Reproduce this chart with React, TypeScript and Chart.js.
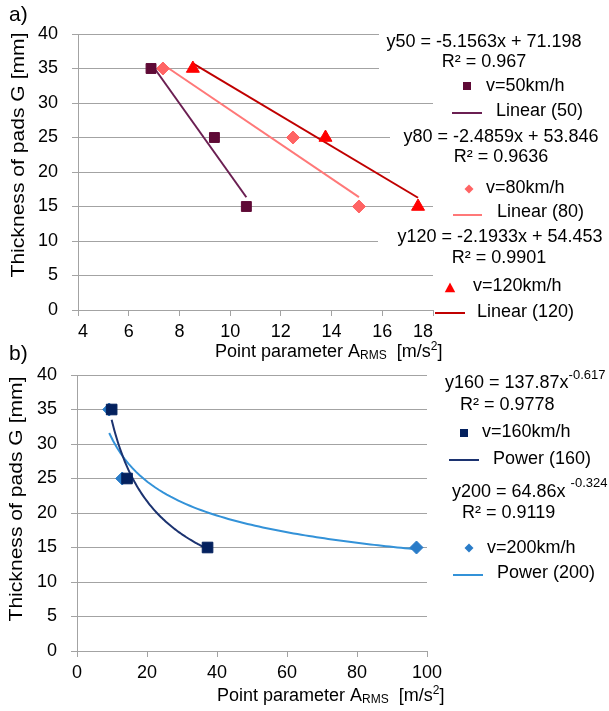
import React, { useEffect, useRef } from 'react';
import { Chart, registerables } from 'chart.js';
Chart.register(...registerables);

const FONT = '"Liberation Sans", Arial, Helvetica, sans-serif';

// ---------- Panel a) data ----------
const thicknessA = [35, 25, 15];
const arms50 = [6.88, 9.38, 10.64];
const arms80 = [7.35, 12.48, 15.08];
const arms120 = [8.53, 13.76, 17.41];
const linear50 = [-5.1563, 71.198];
const linear80 = [-2.4859, 53.846];
const linear120 = [-2.1933, 54.453];
const r2A = ['0.967', '0.9636', '0.9901'];
const xTicksA = [4, 6, 8, 10, 12, 14, 16, 18];

// ---------- Panel b) data ----------
const thicknessB = [35, 25, 15];
const arms160 = [9.9, 14.3, 37.3];
const arms200 = [9.2, 12.9, 97.0];
const power160 = [137.87, -0.617];
const power200 = [64.86, -0.324];
const r2B = ['0.9778', '0.9119'];
const xTicksB = [0, 20, 40, 60, 80, 100];

const yTicks = [0, 5, 10, 15, 20, 25, 30, 35, 40];

// ---------- colours ----------
const C50 = '#5f0a36';
const L50 = '#6b1f52';
const C80 = '#ff6464';
const L80 = '#ff7878';
const C120 = '#ff0000';
const L120 = '#c00000';
const C160 = '#04215e';
const L160 = '#1c3370';
const C200 = '#2a7cc8';
const L200 = '#3392d8';
const GRID = '#a3a3a3';

type Run = [string, number, number];

function drawRuns(ctx: CanvasRenderingContext2D, x: number, y: number, runs: Run[], align: 'left' | 'center' = 'left') {
  const widths = runs.map(([t, s]) => {
    ctx.font = `${s}px ${FONT}`;
    return ctx.measureText(t).width;
  });
  const total = widths.reduce((p, c) => p + c, 0);
  let cx = align === 'center' ? x - total / 2 : x;
  ctx.textAlign = 'left';
  ctx.textBaseline = 'middle';
  runs.forEach(([t, s, dy], i) => {
    ctx.font = `${s}px ${FONT}`;
    ctx.fillText(t, cx, y + dy);
    cx += widths[i];
  });
}

function drawYTitle(ctx: CanvasRenderingContext2D, cx: number, cy: number, len: number) {
  const t = 'Thickness of pads G [mm]';
  ctx.save();
  ctx.translate(cx, cy);
  ctx.rotate(-Math.PI / 2);
  ctx.font = `18px ${FONT}`;
  const w = ctx.measureText(t).width;
  ctx.scale(len / w, 1);
  ctx.textAlign = 'center';
  ctx.textBaseline = 'middle';
  ctx.fillStyle = '#000';
  ctx.fillText(t, 0, 0);
  ctx.restore();
}

function drawXTitle(ctx: CanvasRenderingContext2D, x: number, y: number) {
  ctx.fillStyle = '#000';
  drawRuns(ctx, x, y, [
    ['Point parameter A', 18, 0],
    ['RMS', 12, 4],
    ['  [m/s', 18, 0],
    ['2', 12, -5],
    [']', 18, 0],
  ]);
}

function marker(ctx: CanvasRenderingContext2D, style: string, x: number, y: number, r: number, color: string) {
  ctx.fillStyle = color;
  ctx.beginPath();
  if (style === 'rect') {
    ctx.rect(x - r, y - r, 2 * r, 2 * r);
  } else if (style === 'rectRot') {
    ctx.moveTo(x, y - r);
    ctx.lineTo(x + r, y);
    ctx.lineTo(x, y + r);
    ctx.lineTo(x - r, y);
    ctx.closePath();
  } else {
    ctx.moveTo(x, y - r);
    ctx.lineTo(x + r * 0.95, y + r * 0.75);
    ctx.lineTo(x - r * 0.95, y + r * 0.75);
    ctx.closePath();
  }
  ctx.fill();
}

function seg(ctx: CanvasRenderingContext2D, x1: number, x2: number, y: number, color: string) {
  ctx.strokeStyle = color;
  ctx.lineWidth = 2;
  ctx.beginPath();
  ctx.moveTo(x1, y);
  ctx.lineTo(x2, y);
  ctx.stroke();
}

function fmtLin(name: string, c: number[]) {
  return `${name} = ${c[0]}x + ${c[1]}`;
}

function linearTrend(xs: number[], c: number[]) {
  const lo = Math.min(...xs);
  const hi = Math.max(...xs);
  return [lo, hi].map((x) => ({ x, y: c[0] * x + c[1] }));
}

function powerTrend(xs: number[], c: number[]) {
  const lo = Math.min(...xs);
  const hi = Math.max(...xs);
  const n = 80;
  const pts: { x: number; y: number }[] = [];
  for (let i = 0; i <= n; i++) {
    const x = lo + ((hi - lo) * i) / n;
    pts.push({ x, y: c[0] * Math.pow(x, c[1]) });
  }
  return pts;
}

function pts(xs: number[], ys: number[]) {
  return xs.map((x, i) => ({ x, y: ys[i] }));
}

function axes(xTicks: number[], yW: number, xH: number, inner: boolean) {
  return {
    x: {
      type: 'linear' as const,
      position: 'bottom' as const,
      min: xTicks[0],
      max: xTicks[xTicks.length - 1],
      afterBuildTicks: (s: any) => {
        s.ticks = xTicks.map((v) => ({ value: v }));
      },
      afterFit: (s: any) => {
        s.height = xH;
      },
      grid: { drawOnChartArea: false, drawTicks: true, tickLength: 6, color: GRID, lineWidth: 1 },
      border: { display: true, color: GRID, width: 1 },
      ticks: {
        font: { family: FONT, size: 18 },
        color: '#000',
        padding: 5,
        maxRotation: 0,
        autoSkip: false,
        align: inner ? ('inner' as const) : ('center' as const),
      },
    },
    y: {
      type: 'linear' as const,
      min: yTicks[0],
      max: yTicks[yTicks.length - 1],
      afterBuildTicks: (s: any) => {
        s.ticks = yTicks.map((v) => ({ value: v }));
      },
      afterFit: (s: any) => {
        s.width = yW;
      },
      grid: { drawOnChartArea: true, drawTicks: true, tickLength: 6, color: GRID, lineWidth: 1 },
      border: { display: true, color: GRID, width: 1 },
      ticks: {
        font: { family: FONT, size: 18 },
        color: '#000',
        padding: 14,
        autoSkip: false,
      },
    },
  };
}

export default function App() {
  const refA = useRef<HTMLCanvasElement>(null);
  const refB = useRef<HTMLCanvasElement>(null);

  useEffect(() => {
    const decoA = {
      id: 'decoA',
      afterDraw(chart: any) {
        const ctx: CanvasRenderingContext2D = chart.ctx;
        ctx.save();
        // white label boxes behind equations
        ctx.fillStyle = '#fff';
        ctx.fillRect(379, 27, 230, 45);
        ctx.fillRect(390, 128, 219, 47);
        ctx.fillRect(378, 229, 231, 37);
        ctx.fillStyle = '#000';
        drawRuns(ctx, 9, 15, [['a)', 21, 0]]);
        drawYTitle(ctx, 19, 155, 245);
        drawXTitle(ctx, 215, 352);
        ctx.fillStyle = '#000';
        drawRuns(ctx, 484, 42, [[fmtLin('y50', linear50), 18, 0]], 'center');
        drawRuns(ctx, 484, 62, [[`R² = ${r2A[0]}`, 18, 0]], 'center');
        marker(ctx, 'rect', 467, 86, 4, C50);
        ctx.fillStyle = '#000';
        drawRuns(ctx, 486, 86, [['v=50km/h', 18, 0]]);
        seg(ctx, 452, 482, 113, L50);
        ctx.fillStyle = '#000';
        drawRuns(ctx, 496, 111, [['Linear (50)', 18, 0]]);

        drawRuns(ctx, 501, 137, [[fmtLin('y80', linear80), 18, 0]], 'center');
        drawRuns(ctx, 501, 157, [[`R² = ${r2A[1]}`, 18, 0]], 'center');
        marker(ctx, 'rectRot', 469, 189, 4.5, C80);
        ctx.fillStyle = '#000';
        drawRuns(ctx, 486, 188, [['v=80km/h', 18, 0]]);
        seg(ctx, 453, 482, 215, L80);
        ctx.fillStyle = '#000';
        drawRuns(ctx, 497, 212, [['Linear (80)', 18, 0]]);

        drawRuns(ctx, 500, 237, [[fmtLin('y120', linear120), 18, 0]], 'center');
        drawRuns(ctx, 499, 258, [[`R² = ${r2A[2]}`, 18, 0]], 'center');
        marker(ctx, 'triangle', 450, 288, 5.5, C120);
        ctx.fillStyle = '#000';
        drawRuns(ctx, 473, 286, [['v=120km/h', 18, 0]]);
        seg(ctx, 435, 465, 313, L120);
        ctx.fillStyle = '#000';
        drawRuns(ctx, 477, 312, [['Linear (120)', 18, 0]]);
        ctx.restore();
      },
    };

    const OFF = 340;
    const decoB = {
      id: 'decoB',
      afterDraw(chart: any) {
        const ctx: CanvasRenderingContext2D = chart.ctx;
        ctx.save();
        ctx.fillStyle = '#000';
        drawRuns(ctx, 9, 354 - OFF, [['b)', 21, 0]]);
        drawYTitle(ctx, 17, 499 - OFF, 245);
        drawXTitle(ctx, 217, 696 - OFF);
        ctx.fillStyle = '#000';
        drawRuns(ctx, 445, 383 - OFF, [
          [`y160 = ${power160[0]}x`, 18, 0],
          [`${power160[1]}`, 13, -8],
        ]);
        drawRuns(ctx, 460, 405 - OFF, [[`R² = ${r2B[0]}`, 18, 0]]);
        marker(ctx, 'rect', 464, 433 - OFF, 4, C160);
        ctx.fillStyle = '#000';
        drawRuns(ctx, 482, 432 - OFF, [['v=160km/h', 18, 0]]);
        seg(ctx, 449, 479, 460 - OFF, L160);
        ctx.fillStyle = '#000';
        drawRuns(ctx, 493, 459 - OFF, [['Power (160)', 18, 0]]);

        drawRuns(ctx, 452, 492 - OFF, [
          [`y200 = ${power200[0]}x `, 18, 0],
          [`${power200[1]}`, 13, -9],
        ]);
        drawRuns(ctx, 462, 513 - OFF, [[`R² = ${r2B[1]}`, 18, 0]]);
        marker(ctx, 'rectRot', 469, 548 - OFF, 4.5, C200);
        ctx.fillStyle = '#000';
        drawRuns(ctx, 487, 548 - OFF, [['v=200km/h', 18, 0]]);
        seg(ctx, 453, 483, 575 - OFF, L200);
        ctx.fillStyle = '#000';
        drawRuns(ctx, 497, 573 - OFF, [['Power (200)', 18, 0]]);
        ctx.restore();
      },
    };

    const common = {
      responsive: false,
      animation: false as const,
      events: [] as any[],
      plugins: { legend: { display: false }, tooltip: { enabled: false } },
    };

    const markerDs = (label: string, data: any, style: string, r: number, color: string) => ({
      type: 'scatter' as const,
      label,
      data,
      showLine: false,
      pointStyle: style,
      pointRadius: r,
      pointBackgroundColor: color,
      pointBorderColor: color,
      pointBorderWidth: 1,
    });
    const lineDs = (label: string, data: any, color: string) => ({
      type: 'scatter' as const,
      label,
      data,
      showLine: true,
      borderColor: color,
      borderWidth: 2,
      pointRadius: 0,
      fill: false,
      tension: 0,
    });

    const chartA = new Chart(refA.current!, {
      type: 'scatter',
      data: {
        datasets: [
          markerDs('v=50km/h', pts(arms50, thicknessA), 'rect', 7, C50),
          markerDs('v=80km/h', pts(arms80, thicknessA), 'rectRot', 6.5, C80),
          markerDs('v=120km/h', pts(arms120, thicknessA), 'triangle', 7.5, C120),
          lineDs('Linear (50)', linearTrend(arms50, linear50), L50),
          lineDs('Linear (80)', linearTrend(arms80, linear80), L80),
          lineDs('Linear (120)', linearTrend(arms120, linear120), L120),
        ] as any,
      },
      options: {
        ...common,
        layout: { padding: { left: 0, top: 34, right: 176, bottom: 0 } },
        scales: axes(xTicksA, 78, 60, true) as any,
      } as any,
      plugins: [decoA],
    });

    const chartB = new Chart(refB.current!, {
      type: 'scatter',
      data: {
        datasets: [
          markerDs('v=160km/h', pts(arms160, thicknessB), 'rect', 7.5, C160),
          markerDs('v=200km/h', pts(arms200, thicknessB), 'rectRot', 6.5, C200),
          lineDs('Power (160)', powerTrend(arms160, power160), L160),
          lineDs('Power (200)', powerTrend(arms200, power200), L200),
        ] as any,
      },
      options: {
        ...common,
        layout: { padding: { left: 0, top: 35, right: 182, bottom: 0 } },
        scales: axes(xTicksB, 77, 60, false) as any,
      } as any,
      plugins: [decoB],
    });

    return () => {
      chartA.destroy();
      chartB.destroy();
    };
  }, []);

  return (
    <div
      style={{
        position: 'absolute',
        left: 0,
        top: 0,
        width: 609,
        height: 711,
        background: '#fff',
        overflow: 'hidden',
      }}
    >
      <canvas ref={refA} width={609} height={370} style={{ position: 'absolute', left: 0, top: 0 }} />
      <canvas ref={refB} width={609} height={371} style={{ position: 'absolute', left: 0, top: 340 }} />
    </div>
  );
}
